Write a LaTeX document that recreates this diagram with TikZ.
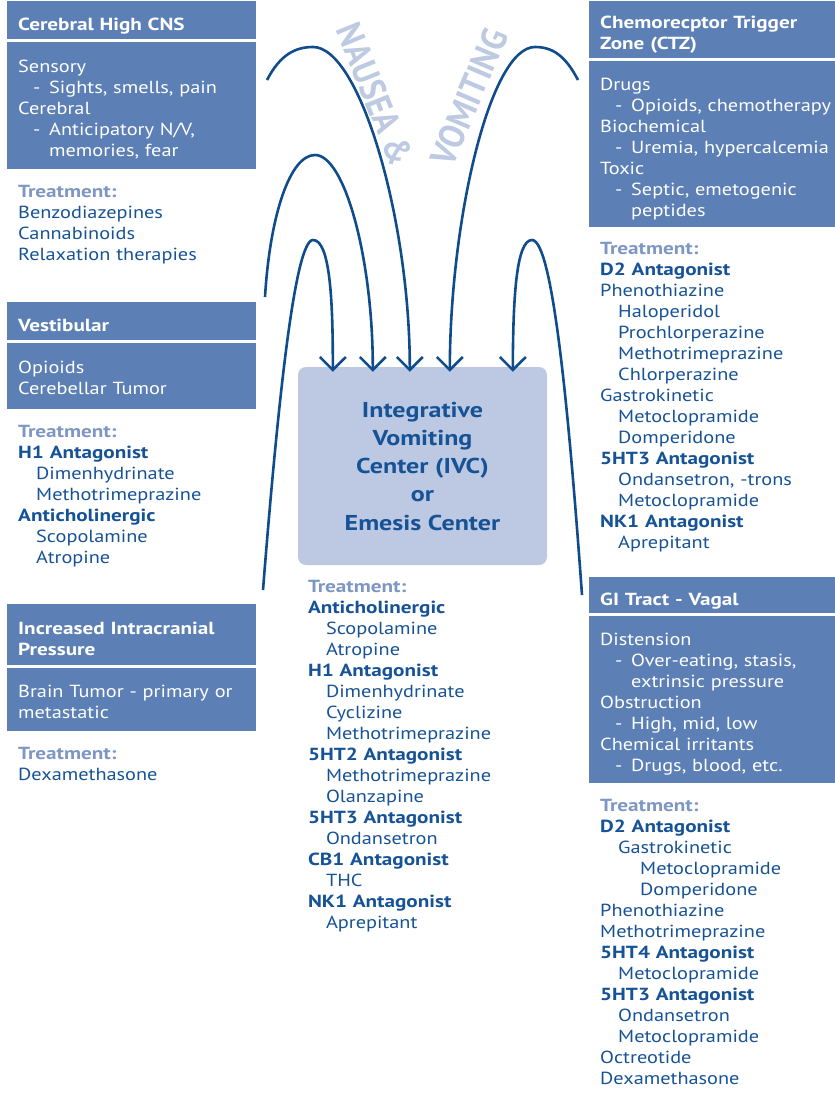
\documentclass[tikz,border=0pt]{standalone}
\usepackage{fontspec}
\setmainfont{PT Sans}[
  UprightFeatures={FakeStretch=1.16},
  BoldFeatures={FakeStretch=1.21}]
\newfontfamily\wordfont{PT Sans}[FakeStretch=0.9]
\usepackage{tikz}
\usetikzlibrary{
	arrows.meta,
	positioning,
	calc
}
\definecolor{PanelBlue}{HTML}{5C80B5}
\definecolor{CenterFill}{HTML}{BDC9E2}
\definecolor{DrugInk}{HTML}{165296}
\definecolor{TreatGrey}{HTML}{7D96C3}
\definecolor{ArcInk}{HTML}{104C8C}
\definecolor{WordShade}{HTML}{BECAE2}
\newcommand{\padtop}[1]{\rule{0pt}{#1pt}}
\newcommand{\padbot}[1]{\rule[-#1pt]{0pt}{#1pt}}
\newcommand{\cause}[1]{\hspace*{15pt}\makebox[16pt][l]{-}#1}
\newcommand{\causecont}[1]{\hspace*{31pt}#1}
\newcommand{\drug}[1]{\hspace*{18pt}#1}
\newcommand{\subdrug}[1]{\hspace*{40pt}#1}
\newcommand{\treatlabel}{\padtop{27.5}\textcolor{TreatGrey}{\textbf{Treatment:}}}

\begin{document}
\begin{tikzpicture}[
 x=1pt,y=-1pt,
 font=\fontsize{17.5}{21}\selectfont,
 panelhead/.style={fill=PanelBlue,text=white,
   font=\fontsize{17.5}{21}\selectfont\bfseries,text width=227pt,
   align=left,inner xsep=11pt,inner ysep=0pt,anchor=north west},
 panelbody/.style={fill=PanelBlue,text=white,text width=227pt,
   align=left,inner xsep=11pt,inner ysep=0pt},
 treatlist/.style={text=DrugInk,text width=227pt,align=left,
   inner xsep=11pt,inner ysep=0pt},
 ivcbox/.style={fill=CenterFill,rounded corners=8pt,minimum width=249pt,
   minimum height=198pt,text=DrugInk,align=center,
   font=\fontsize{21.5}{28.25}\selectfont\bfseries},
 bigword/.style={text=WordShade,font=\wordfont\fontsize{36}{36}\selectfont\bfseries},
 arc/.style={draw=ArcInk,line width=2.6pt,
   -{Straight Barb[length=13pt,width=26pt]}}
]
 \useasboundingbox (0,0) rectangle (835,1095);

 \node[panelhead] (cnsHead) at (7,1) {\padtop{29}Cerebral High CNS\padbot{9}};
 \node[panelbody,below=2.5pt of cnsHead.south west,anchor=north west] (cnsBody)
   {\padtop{30}Sensory\\
    \cause{Sights, smells, pain}\\
    Cerebral\\
    \cause{Anticipatory N/V,}\\
    \causecont{memories, fear}\padbot{13}};
 \node[treatlist,below=0pt of cnsBody.south west,anchor=north west] (cnsTreat)
   {\treatlabel\\
    Benzodiazepines\\
    Cannabinoids\\
    Relaxation therapies};

 \node[panelhead] (vestHead) at (7,302) {\padtop{29}Vestibular\padbot{9}};
 \node[panelbody,below=2.5pt of vestHead.south west,anchor=north west] (vestBody)
   {\padtop{30}Opioids\\
    Cerebellar Tumor\padbot{15}};
 \node[treatlist,below=0pt of vestBody.south west,anchor=north west] (vestTreat)
   {\treatlabel\\
    \textbf{H1 Antagonist}\\
    \drug{Dimenhydrinate}\\
    \drug{Methotrimeprazine}\\
    \textbf{Anticholinergic}\\
    \drug{Scopolamine}\\
    \drug{Atropine}};

 \node[panelhead] (icpHead) at (7,604)
   {\padtop{30}Increased Intracranial\\Pressure\padbot{10}};
 \node[panelbody,below=2.5pt of icpHead.south west,anchor=north west] (icpBody)
   {\padtop{29}Brain Tumor - primary or\\
    metastatic\padbot{13}};
 \node[treatlist,below=0pt of icpBody.south west,anchor=north west] (icpTreat)
   {\treatlabel\\
    Dexamethasone};

 \node[panelhead,text width=236pt] (ctzHead) at (589,1)
   {\padtop{27.5}Chemorecptor Trigger\\Zone (CTZ)\padbot{8}};
 \node[panelbody,text width=236pt,below=2.5pt of ctzHead.south west,anchor=north west] (ctzBody)
   {\padtop{30}Drugs\\
    \cause{Opioids, chemotherapy}\\
    Biochemical\\
    \cause{Uremia, hypercalcemia}\\
    Toxic\\
    \cause{Septic, emetogenic}\\
    \causecont{peptides}\padbot{10}};
 \node[treatlist,below=0pt of ctzBody.south west,anchor=north west] (ctzTreat)
   {\treatlabel\\
    \textbf{D2 Antagonist}\\
    Phenothiazine\\
    \drug{Haloperidol}\\
    \drug{Prochlorperazine}\\
    \drug{Methotrimeprazine}\\
    \drug{Chlorperazine}\\
    Gastrokinetic\\
    \drug{Metoclopramide}\\
    \drug{Domperidone}\\
    \textbf{5HT3 Antagonist}\\
    \drug{Ondansetron, -trons}\\
    \drug{Metoclopramide}\\
    \textbf{NK1 Antagonist}\\
    \drug{Aprepitant}};

 \node[panelhead,text width=236pt] (giHead) at (589,577) {\padtop{28}GI Tract - Vagal\padbot{8}};
 \node[panelbody,text width=236pt,below=2.5pt of giHead.south west,anchor=north west] (giBody)
   {\padtop{29}Distension\\
    \cause{Over-eating, stasis,}\\
    \causecont{extrinsic pressure}\\
    Obstruction\\
    \cause{High, mid, low}\\
    Chemical irritants\\
    \cause{Drugs, blood, etc.}\padbot{12}};
 \node[treatlist,below=0pt of giBody.south west,anchor=north west] (giTreat)
   {\treatlabel\\
    \textbf{D2 Antagonist}\\
    \drug{Gastrokinetic}\\
    \subdrug{Metoclopramide}\\
    \subdrug{Domperidone}\\
    Phenothiazine\\
    Methotrimeprazine\\
    \textbf{5HT4 Antagonist}\\
    \drug{Metoclopramide}\\
    \textbf{5HT3 Antagonist}\\
    \drug{Ondansetron}\\
    \drug{Metoclopramide}\\
    Octreotide\\
    Dexamethasone};

 \node[ivcbox] (ivc) at (422.5,466)
   {Integrative\\Vomiting\\Center (IVC)\\or\\Emesis Center};
 \node[treatlist,inner xsep=10pt,below=0pt of ivc.south west,anchor=north west] (ivcTreat)
   {\treatlabel\\
    \textbf{Anticholinergic}\\
    \drug{Scopolamine}\\
    \drug{Atropine}\\
    \textbf{H1 Antagonist}\\
    \drug{Dimenhydrinate}\\
    \drug{Cyclizine}\\
    \drug{Methotrimeprazine}\\
    \textbf{5HT2 Antagonist}\\
    \drug{Methotrimeprazine}\\
    \drug{Olanzapine}\\
    \textbf{5HT3 Antagonist}\\
    \drug{Ondansetron}\\
    \textbf{CB1 Antagonist}\\
    \drug{THC}\\
    \textbf{NK1 Antagonist}\\
    \drug{Aprepitant}};

 \node[bigword,rotate=-68] (nausea) at (375,94) {NAUSEA \&};
 \node[bigword,rotate=67] (vomiting) at (469,97) {VOMITING};

 \coordinate (arcA) at (267,80);
 \coordinate (arcB) at (265,297);
 \coordinate (arcC) at (263,590);
 \coordinate (arcD) at (578,80);
 \coordinate (arcE) at (582,595);
 \coordinate (tip1) at ([shift={(35pt,-5pt)}]ivc.north west);
 \coordinate (tip2) at ([shift={(75pt,-5pt)}]ivc.north west);
 \coordinate (tip3) at ([shift={(112pt,-5pt)}]ivc.north west);
 \coordinate (tip4) at ([shift={(152pt,-5pt)}]ivc.north west);
 \coordinate (tip5) at ([shift={(215pt,-5pt)}]ivc.north west);

 \draw[arc] (arcA) .. controls (280,55) and (295,47) .. (313,47)
   .. controls (360,47) and (410,220) .. (tip3);
 \draw[arc] (arcB) .. controls (270,215) and (290,155) .. (315,155)
   .. controls (345,155) and (373,260) .. (tip2);
 \draw[arc] (arcC) .. controls (278,400) and (295,240) .. (313,240)
   .. controls (330,240) and (333,300) .. (tip1);
 \draw[arc] (arcD) .. controls (565,55) and (552,47) .. (535,47)
   .. controls (490,47) and (450,220) .. (tip4);
 \draw[arc] (arcE) .. controls (568,400) and (552,240) .. (532,240)
   .. controls (516,240) and (513,300) .. (tip5);
\end{tikzpicture}
\end{document}
